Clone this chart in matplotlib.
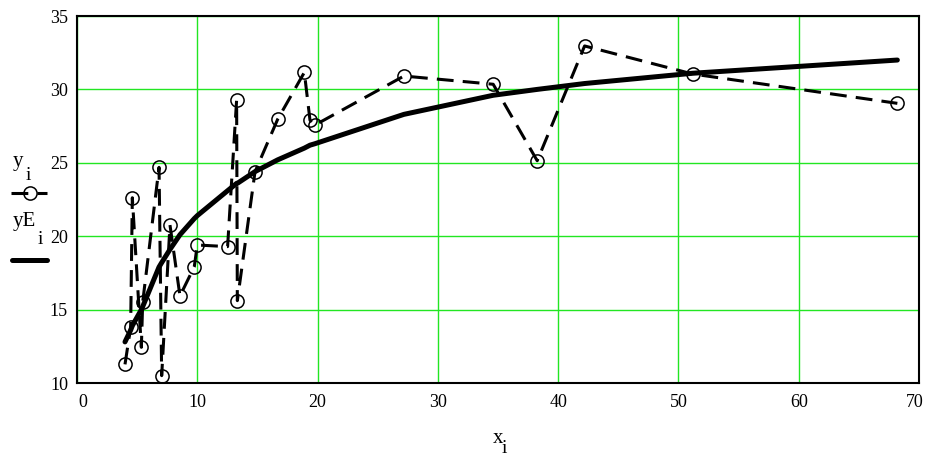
import matplotlib
matplotlib.use('Agg')
import matplotlib.pyplot as plt
from matplotlib.lines import Line2D
from matplotlib.transforms import ScaledTranslation

# data
x_i = [3.99, 4.46, 4.60, 5.35, 5.46, 6.82, 7.04, 7.73, 8.56, 9.75, 10.0, 12.52, 13.27,
       13.33, 14.80, 16.68, 18.90, 19.37, 19.78, 27.18, 34.60, 38.26, 42.20, 51.18, 68.20]
y_i = [11.27, 13.79, 22.62, 12.43, 15.50, 24.69, 10.50, 20.76, 15.93, 17.92, 19.40, 19.29, 29.28,
       15.61, 24.39, 27.96, 31.16, 27.90, 27.57, 30.91, 30.35, 25.14, 32.96, 31.05, 29.05]
yE_i = [12.8, 13.6, 13.9, 15.0, 15.2, 17.9, 18.2, 19.1, 20.1, 21.2, 21.4, 23.1, 23.6,
        23.6, 24.4, 25.2, 26.0, 26.2, 26.3, 28.3, 29.6, 30.0, 30.4, 31.1, 32.0]

x_ticks = [0, 10, 20, 30, 40, 50, 60, 70]
y_ticks = [10, 15, 20, 25, 30, 35]

W, H = 926, 458
plt.rcParams['font.family'] = ['Liberation Serif', 'DejaVu Serif']

fig = plt.figure(figsize=(W / 100, H / 100), dpi=100)
ax = fig.add_axes([77 / W, 1 - 383 / H, (919 - 77) / W, (383 - 16) / H])


def fx(px):
    return px / W


def fy(py):
    return 1 - py / H


dash_style = dict(color='black', lw=2.2, dashes=(5.5, 3), dash_capstyle='butt')
circle_style = dict(marker='o', ms=9.5, mfc='none', mec='black', mew=1.1)

#----------------------------------------------------------------------------------------------------------------------------------
# the curves
ax.plot(x_i, y_i, linestyle='--', **dash_style, **circle_style, zorder=3)
ax.plot(x_i, yE_i, color='black', lw=3.6, solid_capstyle='round', zorder=4)

ax.set_xlim(0, 70)
ax.set_ylim(10, 35)
ax.set_xticks(x_ticks)
ax.set_yticks(y_ticks)
ax.grid(True, color='#22e622', lw=1.0)
ax.set_axisbelow(True)
ax.tick_params(length=0, labelsize=13)
ax.tick_params(axis='x', pad=8)
ax.tick_params(axis='y', pad=6.5)
for s in ax.spines.values():
    s.set_linewidth(1.5)

# first and last x labels are nudged inwards as in the reference
xlabels = ax.get_xticklabels()
xlabels[0].set_transform(xlabels[0].get_transform() + ScaledTranslation(6 / 100, 0, fig.dpi_scale_trans))
xlabels[-1].set_transform(xlabels[-1].get_transform() + ScaledTranslation(-4 / 100, 0, fig.dpi_scale_trans))

# axis label x_i
fig.text(fx(493), fy(443), 'x', fontsize=15, va='baseline', ha='left')
fig.text(fx(502), fy(453), 'i', fontsize=14, va='baseline', ha='left')

# legend on the left
fig.text(fx(13), fy(166), 'y', fontsize=15, va='baseline', ha='left')
fig.text(fx(26), fy(180), 'i', fontsize=14, va='baseline', ha='left')
fig.add_artist(Line2D([fx(11), fx(47)], [fy(193), fy(193)], linestyle='--', **dash_style))
fig.add_artist(Line2D([fx(30)], [fy(193)], linestyle='none', **circle_style))

fig.text(fx(13), fy(226), 'yE', fontsize=15, va='baseline', ha='left')
fig.text(fx(38), fy(244), 'i', fontsize=14, va='baseline', ha='left')
fig.add_artist(Line2D([fx(12), fx(47)], [fy(260), fy(260)], color='black', lw=3.6,
                      solid_capstyle='round'))

fig.savefig('out.png', dpi=100)
